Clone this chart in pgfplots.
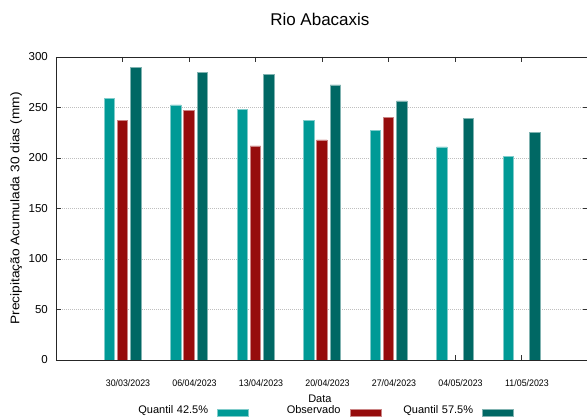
\documentclass[border=0pt]{standalone}
\usepackage{pgfplots}
\pgfplotsset{compat=1.18}
\usepackage{fontspec}
\setmainfont{Liberation Sans}
\newfontfamily\tickfont{Liberation Sans}[FakeStretch=0.93]
\newfontfamily\ylabfont{Liberation Sans}[FakeStretch=1.1]
\definecolor{qa}{RGB}{0,154,150}
\definecolor{obs}{RGB}{150,12,12}
\definecolor{qb}{RGB}{0,104,100}
\begin{document}
\begin{tikzpicture}
\path[use as bounding box] (0,0) rectangle (587pt,419pt);
\begin{axis}[
  at={(56pt,59pt)}, anchor=south west,
  scale only axis, width=532pt, height=303pt,
  xmin=-1, xmax=7, ymin=0, ymax=300,
  ybar, bar width=10.5pt,
  xtick={0,1,2,3,4,5,6},
  xticklabels={30/03/2023,06/04/2023,13/04/2023,20/04/2023,27/04/2023,04/05/2023,11/05/2023},
  ytick={0,50,100,150,200,250,300},
  tick align=inside,
  major tick length=5pt,
  tick style={black!80, line width=0.6pt},
  axis line style={black!85, line width=0.9pt},
  ymajorgrids,
  grid style={gray!50, dash pattern=on 1pt off 1pt, line width=0.5pt},
  /pgf/number format/assume math mode=true,
  xticklabel style={anchor=base, yshift=-27pt, xshift=5.5pt, font=\tickfont\fontsize{9.5}{11}\selectfont},
  yticklabel style={anchor=east, inner xsep=0pt, xshift=-8pt, font=\fontsize{11.5}{13}\selectfont},
  title={Rio Abacaxis},
  title style={at={(axis description cs:0.496,1)}, anchor=base, yshift=25pt, font=\fontsize{17}{20}\selectfont},
  xlabel={Data},
  xlabel style={at={(axis description cs:0.496,0)}, anchor=base, yshift=-43pt, font=\fontsize{11}{13}\selectfont},
  ylabel={Precipitação Acumulada 30 dias (mm)},
  ylabel style={at={(axis description cs:-0.075,0.5)}, anchor=center, font=\ylabfont\fontsize{12.5}{14}\selectfont},
  legend plot pos=right,
  legend columns=3,
  legend image code/.code={\fill[#1] (0pt,-6pt) rectangle (31pt,1pt);},
  legend style={at={(axis description cs:0.495,-0.165)}, anchor=center, draw=none, fill=none,
    column sep=9pt, font=\fontsize{11}{13}\selectfont,
    nodes={text width=83pt, align=right, inner xsep=0pt}},
]
\addplot[fill=qa, draw=qa!50!white, line width=0.5pt, bar shift=-13pt] coordinates {
  (0,259) (1,252.5) (2,248) (3,237.5) (4,227.5) (5,211) (6,201.5)};
\addlegendentry{Quantil 42.5\%}
\addplot[fill=obs, draw=obs!50!white, line width=0.5pt, bar shift=0pt] coordinates {
  (0,237.5) (1,247.5) (2,212) (3,218) (4,240)};
\addlegendentry{Observado}
\addplot[fill=qb, draw=qb!50!white, line width=0.5pt, bar shift=13.5pt] coordinates {
  (0,289.5) (1,284.5) (2,283) (3,272.5) (4,256.5) (5,239) (6,225.5)};
\addlegendentry{Quantil 57.5\%}
\end{axis}
\end{tikzpicture}
\end{document}
